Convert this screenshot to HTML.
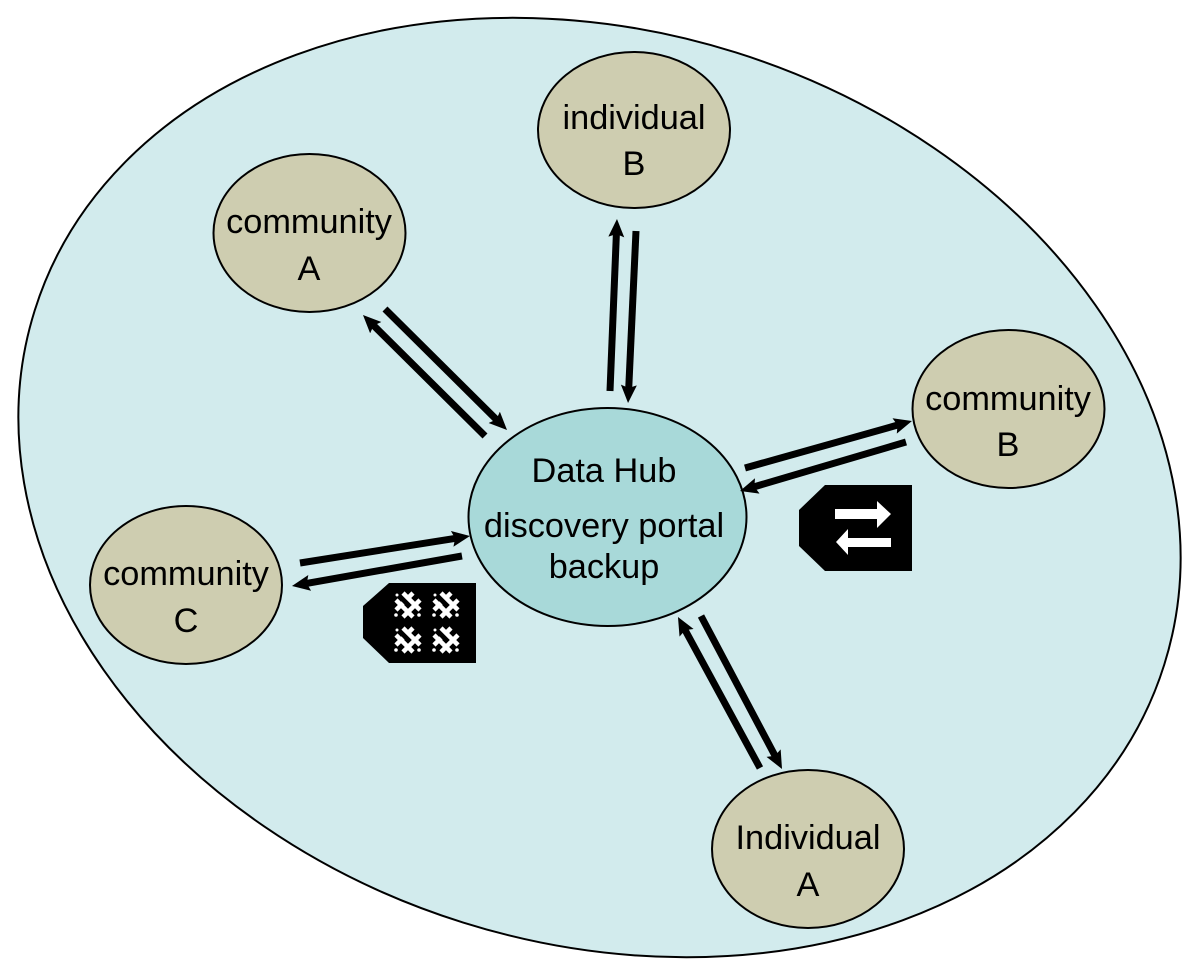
<!DOCTYPE html>
<html>
<head>
<meta charset="utf-8">
<style>
html,body{margin:0;padding:0;background:#fff;width:1200px;height:977px;overflow:hidden}
svg{display:block;overflow:hidden}
text{font-family:"Liberation Sans",Arial,sans-serif;font-size:34.3px;fill:#000;text-anchor:middle}
</style>
</head>
<body>
<svg width="1200" height="977" viewBox="0 0 1200 977" xmlns="http://www.w3.org/2000/svg">
<defs>
<marker id="a" markerUnits="userSpaceOnUse" markerWidth="20" markerHeight="18" refX="6" refY="8" orient="auto">
<path d="M0 0L18 8L0 16L3 8Z" fill="#000"/>
</marker>
<g id="knot" fill="none" stroke="#fff" stroke-width="4.5">
<path d="M-12 -5L5 12M-5 -12L12 5"/>
<path d="M-12 5L-5 -2M-1 -6L5 -12M-5 12L12 -5"/>
<circle cx="-12" cy="10" r="1.800" fill="#fff" stroke="none"/>
<circle cx="11" cy="10" r="1.800" fill="#fff" stroke="none"/>
<circle cx="-11" cy="-10" r="1.500" fill="#fff" stroke="none"/>
</g>
</defs>
<rect width="1200" height="977" fill="#fff"/>
<path d="M34.7 310.5A590 454.24 17.4 1 1 1164.3 664.5A590 454.24 17.4 1 1 34.7 310.5Z" fill="#d2ebed" stroke="#000" stroke-width="2"/>

<g stroke="#000" stroke-width="2" fill="#cecdb0">
<ellipse cx="634" cy="130" rx="96" ry="78"/>
<ellipse cx="309.5" cy="233" rx="96" ry="79"/>
<ellipse cx="1008.5" cy="409" rx="96" ry="79"/>
<ellipse cx="186" cy="585" rx="96" ry="79"/>
<ellipse cx="808" cy="849" rx="96" ry="79"/>
<ellipse cx="607.5" cy="517" rx="139" ry="109" fill="#a8d9d9"/>
</g>

<g stroke="#000" stroke-width="7" fill="none">
<path d="M610 391L616.5 231" marker-end="url(#a)"/>
<path d="M636 231L628.6 391" marker-end="url(#a)"/>
<path d="M485 436L371.5 323.4" marker-end="url(#a)"/>
<path d="M385 309L498.5 421.6" marker-end="url(#a)"/>
<path d="M745 468L900.4 424.3" marker-end="url(#a)"/>
<path d="M906 442L751.5 487.6" marker-end="url(#a)"/>
<path d="M300 563L458.1 537.9" marker-end="url(#a)"/>
<path d="M462 556L303.8 583.9" marker-end="url(#a)"/>
<path d="M760 768L683.7 627.5" marker-end="url(#a)"/>
<path d="M701 616L776.4 758.4" marker-end="url(#a)"/>
</g>

<text x="634" y="129">individual</text>
<text x="634" y="175">B</text>
<text x="309" y="233">community</text>
<text x="309" y="280">A</text>
<text x="1008" y="410">community</text>
<text x="1008" y="456">B</text>
<text x="186" y="585">community</text>
<text x="186" y="632">C</text>
<text x="808" y="849">Individual</text>
<text x="808" y="896">A</text>
<text x="604" y="482">Data Hub</text>
<text x="604" y="537">discovery portal</text>
<text x="604" y="578">backup</text>

<path d="M825 485H912V571H825L799 546V510Z" fill="#000"/>
<path d="M835 509H877V501L891 514L877 528V519H835Z" fill="#fff"/>
<path d="M891 538H848V529L836 542L848 555V547H891Z" fill="#fff"/>

<path d="M389 583H476V663H389L363 638V606Z" fill="#000"/>
<use href="#knot" x="408" y="605"/>
<use href="#knot" x="446" y="605"/>
<use href="#knot" x="408" y="640"/>
<use href="#knot" x="446" y="640"/>
</svg>
</body>
</html>
